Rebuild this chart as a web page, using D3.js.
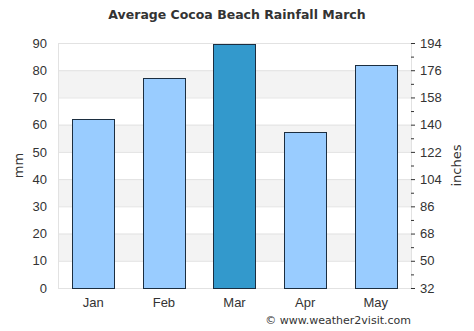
<!DOCTYPE html>
<html><head><meta charset="utf-8">
<script src="https://cdn.jsdelivr.net/npm/d3@7"></script>
<style>body{margin:0;background:#fff}svg{display:block;font-family:"DejaVu Sans",sans-serif}</style>
</head><body>
<script>
const months = ["Jan","Feb","Mar","Apr","May"];
const rainfall = [62.2, 77.1, 89.6, 57.4, 81.8];
const highlight = "Mar";
const mmTicks = [0,10,20,30,40,50,60,70,80,90];
const inchTicks = [32,50,68,86,104,122,140,158,176,194];
const title = "Average Cocoa Beach Rainfall March";
const credit = "© www.weather2visit.com";

const W = 474, H = 331;
const m = {left: 58, right: 411, top: 43, bottom: 288};
const svg = d3.select("body").append("svg").attr("width", W).attr("height", H);

const x = d3.scaleBand().domain(months).range([m.left, m.right]).paddingInner(0.4).paddingOuter(0.2);
const y = d3.scaleLinear().domain([0, 90]).range([m.bottom, m.top]);
const y2 = d3.scaleLinear().domain([32, 194]).range([m.bottom, m.top]);

// bands
const bands = d3.range(0, 90, 10).filter(v => (v/10) % 2 === 1);
svg.append("g").selectAll("rect").data(bands).join("rect")
  .attr("x", m.left).attr("width", m.right - m.left)
  .attr("y", d => y(d + 10)).attr("height", d => y(d) - y(d + 10))
  .attr("fill", "#f3f3f3");

// grid
svg.append("g").selectAll("line").data(mmTicks).join("line")
  .attr("x1", m.left).attr("x2", m.right)
  .attr("y1", d => y(d) + 0.5).attr("y2", d => y(d) + 0.5)
  .attr("stroke", "#e2e2e2");
svg.append("line").attr("x1", m.left + 0.5).attr("x2", m.left + 0.5)
  .attr("y1", m.top).attr("y2", m.bottom).attr("stroke", "#e2e2e2");
svg.append("line").attr("x1", m.right + 0.5).attr("x2", m.right + 0.5)
  .attr("y1", m.top).attr("y2", m.bottom).attr("stroke", "#e2e2e2");

// bars
svg.append("g").selectAll("rect").data(months).join("rect")
  .attr("x", d => Math.round(x(d)) + 0.5)
  .attr("width", Math.round(x.bandwidth()))
  .attr("y", (d, i) => Math.round(y(rainfall[i])) + 0.5)
  .attr("height", (d, i) => Math.round(m.bottom - y(rainfall[i])))
  .attr("fill", d => d === highlight ? "#3399cc" : "#99ccff")
  .attr("stroke", "#1c2e40").attr("stroke-width", 1);

// left axis
const la = svg.append("g").attr("transform", `translate(${m.left},0)`)
  .call(d3.axisLeft(y).tickValues(mmTicks).tickSize(0).tickPadding(11));
la.select(".domain").remove();
la.selectAll("text").attr("font-size", 13).attr("fill", "#333");

// right axis
const ra = svg.append("g").attr("transform", `translate(${m.right},0)`)
  .call(d3.axisRight(y2).tickValues(inchTicks).tickSize(4).tickPadding(5));
ra.select(".domain").remove();
ra.selectAll("line").attr("stroke", "#333");
ra.selectAll("text").attr("font-size", 13).attr("fill", "#333");
const minor = inchTicks.slice(0, -1).map((v, i) => (v + inchTicks[i + 1]) / 2);
svg.append("g").selectAll("line").data(minor).join("line")
  .attr("x1", m.right).attr("x2", m.right + 3)
  .attr("y1", d => y2(d) + 0.5).attr("y2", d => y2(d) + 0.5)
  .attr("stroke", "#333");

// bottom axis
const ba = svg.append("g").attr("transform", `translate(0,${m.bottom})`)
  .call(d3.axisBottom(x).tickSize(0).tickPadding(10));
ba.select(".domain").remove();
ba.selectAll("text").attr("font-size", 13).attr("fill", "#333");

// titles
svg.append("text").attr("x", 237).attr("y", 19).attr("text-anchor", "middle")
  .attr("font-size", 12.5).attr("font-weight", "bold").attr("fill", "#333").text(title);
svg.append("text").attr("transform", `translate(23,${(m.top + m.bottom) / 2}) rotate(-90)`)
  .attr("text-anchor", "middle").attr("font-size", 13).attr("fill", "#333").text("mm");
svg.append("text").attr("transform", `translate(461,${(m.top + m.bottom) / 2}) rotate(-90)`)
  .attr("text-anchor", "middle").attr("font-size", 13).attr("fill", "#333").text("inches");
svg.append("text").attr("x", 411).attr("y", 324).attr("text-anchor", "end")
  .attr("font-size", 11).attr("fill", "#333").text(credit);
</script>
</body></html>
